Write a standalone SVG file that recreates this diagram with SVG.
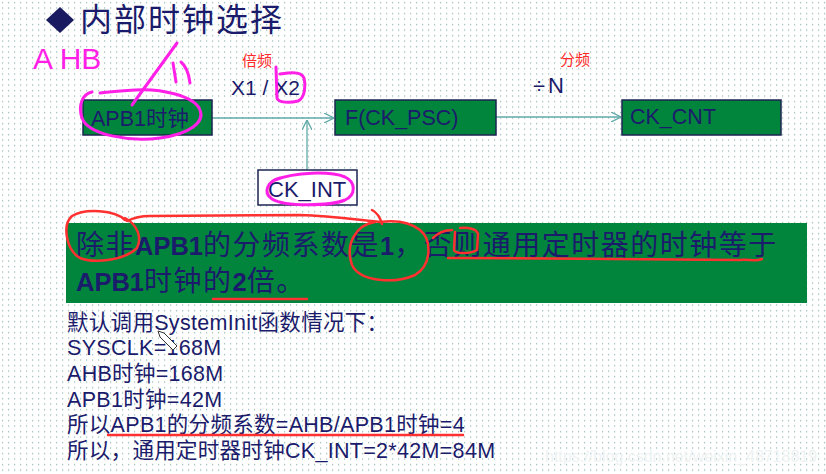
<svg xmlns="http://www.w3.org/2000/svg" width="826" height="474" viewBox="0 0 826 474">
<defs>
<pattern id="dots" width="6" height="5.5" patternUnits="userSpaceOnUse"><rect x="2" y="2" width="1.2" height="1.2" fill="#8fb3b0"/></pattern>
<marker id="arr" viewBox="0 0 10 10" refX="10" refY="5" markerWidth="10" markerHeight="10" markerUnits="userSpaceOnUse" orient="auto"><path d="M0 0 L10 5 L0 10" fill="none" stroke="#5fa8a8" stroke-width="1.3"/></marker>
</defs>
<style>
.t{font-family:"Liberation Sans","Noto Sans CJK SC",sans-serif;fill:#1b1b6b}
.box{fill:#01853c;stroke:#1c2451;stroke-width:1.5}
.bx{font-size:21.5px}
.con{stroke:#5fa8a8;stroke-width:1.3;fill:none}
.red{fill:#ff2a2a;font-family:"Liberation Sans","Noto Sans CJK SC",sans-serif;font-size:15px}
.mg{fill:none;stroke:#ff1fe6;stroke-width:3;stroke-linecap:round;stroke-linejoin:round}
.rd{fill:none;stroke:#ff3030;stroke-width:2.5;stroke-linecap:round;stroke-linejoin:round}
.bt{font-size:28px;letter-spacing:1.5px}
.bl{font-size:25.5px;font-weight:bold;letter-spacing:0}
.lo{font-size:21.5px;letter-spacing:0.3px}
</style>
<rect width="826" height="474" fill="#ffffff"/>
<rect width="826" height="474" fill="url(#dots)"/>
<g id="title">
<path d="M60 7 L74 20 L60 33 L46 20 Z" fill="#1a1a60"/>
<text class="t" x="80" y="31" font-size="32" letter-spacing="2">内部时钟选择</text>
</g>
<g id="labels">
<text class="red" x="242" y="66">倍频</text>
<text class="t" x="231" y="95" font-size="21">X1 / X2</text>
<text class="red" x="560" y="65">分频</text>
<text class="t" x="533" y="93" font-size="22" letter-spacing="3">÷N</text>
</g>
<g id="connectors">
<line class="con" x1="212" y1="118" x2="334" y2="118" marker-end="url(#arr)"/>
<line class="con" x1="307" y1="170" x2="307" y2="120" marker-end="url(#arr)"/>
<line class="con" x1="496" y1="117" x2="621" y2="117" marker-end="url(#arr)"/>
</g>
<g id="apb1">
<rect class="box" x="83" y="100" width="129" height="35"/>
<text class="t bx" x="91" y="126">APB1时钟</text>
</g>
<g id="ckpsc">
<rect class="box" x="335" y="100" width="161" height="35"/>
<text class="t bx" x="345" y="125">F(CK_PSC)</text>
</g>
<g id="ckcnt">
<rect class="box" x="622" y="100" width="159" height="35"/>
<text class="t bx" x="630" y="124">CK_CNT</text>
</g>
<g id="ckint">
<rect x="258" y="170" width="99" height="35" fill="#ffffff" stroke="#1c2451" stroke-width="1.5"/>
<text class="t" x="268" y="197" font-size="22">CK_INT</text>
</g>
<g id="banner">
<rect x="66" y="223" width="741" height="80" fill="#01853c"/>
<text class="t bt" x="76" y="255">除非<tspan class="bl">APB1</tspan>的分频系数是<tspan class="bl">1</tspan>，否则通用定时器的时钟等于</text>
<text class="t bt" x="76" y="291"><tspan class="bl">APB1</tspan>时钟的<tspan class="bl">2</tspan>倍。</text>
</g>
<g id="notes">
<text class="t lo" x="67" y="330">默认调用SystemInit函数情况下：</text>
<text class="t lo" x="67" y="355">SYSCLK=168M</text>
<text class="t lo" x="67" y="381">AHB时钟=168M</text>
<text class="t lo" x="67" y="407">APB1时钟=42M</text>
<text class="t lo" x="67" y="432">所以APB1的分频系数=AHB/APB1时钟=4</text>
<text class="t lo" x="67" y="458">所以，通用定时器时钟CK_INT=2*42M=84M</text>
</g>
<g id="annotations">
<text x="33" y="69" font-family="Liberation Sans, sans-serif" font-size="30" fill="#ff1fe6">A HB</text>
<path class="mg" d="M132 105 L177 43"/>
<path class="mg" d="M173 63 L176 82"/>
<path class="mg" d="M181 62 C186 66 189 75 190 83"/>
<path class="mg" d="M92 92 C82 94 78 106 82 118 C88 135 130 142 160 138 C190 134 205 122 200 110 C195 96 160 88 135 90 C120 91 108 92 100 93"/>
<path class="mg" d="M276 67 L277 98 C278 103 290 103 298 101 C305 98 306 85 304 78 C302 73 296 72 288 73 L280 74"/>
<path class="mg" d="M280 178 C268 181 262 192 272 199 C285 207 330 206 345 200 C356 195 356 182 345 177 C330 171 295 172 275 180"/>
<path class="rd" d="M125 220 C115 210 85 208 72 216 C62 225 66 250 80 258 C95 264 125 260 137 248 C142 238 138 225 125 218"/>
<path class="rd" d="M127 221 C135 217 142 216 150 216 L300 215 C330 216 360 220 382 222"/>
<path class="rd" d="M372 210 C376 212 380 217 382 224"/>
<path class="rd" d="M375 222 C355 225 345 245 352 265 C360 282 395 284 415 275 C432 265 432 240 420 230 C410 222 395 220 380 222"/>
<path class="rd" d="M433 238 C438 233 445 230 452 230"/>
<path class="rd" d="M455 232 L454 250 C455 254 470 254 477 250 L478 234 C477 229 468 227 460 228"/>
<path class="rd" d="M448 258 C550 258 700 260 740 260 C750 259 755 262 762 259"/>
<path class="rd" d="M213 299 L307 299"/>
<path class="rd" d="M108 435 L463 435"/>
<path d="M158 331 L164 333 L177 346 L173 350 L160 337 Z" fill="#ffffff" stroke="#333333" stroke-width="1"/>
<text x="545" y="462" font-family="Liberation Sans, sans-serif" font-size="16" fill="#eef2f2">https://blog.csdn.net/weixin_48718819</text>
</g>
</svg>
